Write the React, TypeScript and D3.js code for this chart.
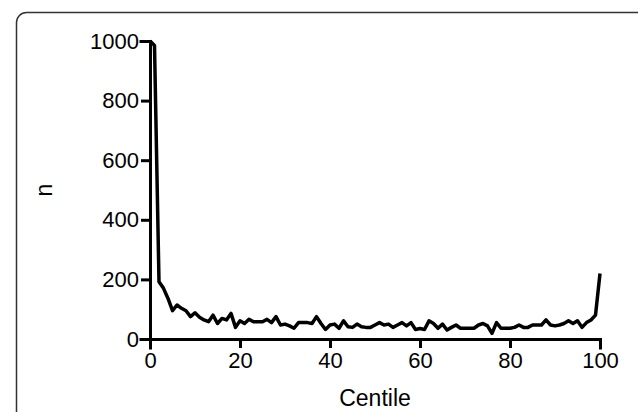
import React, { useEffect, useRef } from "react";
import * as d3 from "d3";

// n per centile (centile 0..100)
const centiles: number[] = d3.range(0, 101);
const counts: number[] = [
  1000, 985, 192, 170, 136, 95, 114, 103, 95, 75,
  88, 73, 64, 58, 80, 52, 69, 64, 86, 39,
  61, 52, 66, 58, 58, 58, 66, 55, 75, 47,
  50, 44, 36, 55, 55, 55, 52, 75, 52, 32,
  47, 50, 36, 61, 41, 39, 50, 41, 39, 39,
  47, 55, 47, 50, 39, 47, 55, 44, 55, 32,
  35, 32, 61, 52, 36, 50, 30, 39, 47, 36,
  36, 36, 36, 47, 52, 44, 19, 55, 36, 36,
  36, 39, 47, 39, 39, 47, 47, 47, 64, 47,
  44, 47, 52, 61, 52, 61, 39, 55, 64, 80,
  220,
];
const xTicks: number[] = [0, 20, 40, 60, 80, 100];
const yTicks: number[] = [0, 200, 400, 600, 800, 1000];

export default function App() {
  const ref = useRef<SVGSVGElement>(null);

  useEffect(() => {
    const node = ref.current;
    if (!node) return;
    const w = 638;
    const h = 412;
    const m = { t: 41, r: 38, b: 73, l: 150 };
    const font = "'Liberation Sans', Arial, sans-serif";

    const svg = d3.select(node);
    svg.selectAll("*").remove();

    // panel frame (rounded, runs off the right/bottom)
    svg
      .append("rect")
      .attr("x", 16.5)
      .attr("y", 12.5)
      .attr("width", 640)
      .attr("height", 440)
      .attr("rx", 10)
      .attr("fill", "none")
      .attr("stroke", "#333")
      .attr("stroke-width", 1.5);

    const x = d3.scaleLinear().domain([0, 100]).range([m.l, w - m.r]);
    const y = d3.scaleLinear().domain([0, 1000]).range([h - m.b, m.t]);

    const styleAxis = (g: any) => {
      g.select(".domain").attr("stroke", "#000").attr("stroke-width", 3).attr("stroke-linecap", "square");
      g.selectAll(".tick line").attr("stroke", "#000").attr("stroke-width", 3);
      g.selectAll(".tick text")
        .attr("fill", "#000")
        .style("font-family", font)
        .style("font-size", "22px");
    };

    svg
      .append("g")
      .attr("transform", `translate(0,${y(0)})`)
      .call(
        d3.axisBottom(x).tickValues(xTicks).tickFormat(d3.format("d")).tickSizeOuter(0).tickSize(9).tickPadding(4)
      )
      .call(styleAxis);

    svg
      .append("g")
      .attr("transform", `translate(${x(0)},0)`)
      .call(
        d3.axisLeft(y).tickValues(yTicks).tickFormat(d3.format("d")).tickSizeOuter(0).tickSize(9).tickPadding(2)
      )
      .call(styleAxis);

    const line = d3
      .line<number>()
      .x((_, i) => x(centiles[i]))
      .y(d => y(d));

    svg
      .append("path")
      .datum(counts)
      .attr("d", line)
      .attr("fill", "none")
      .attr("stroke", "#000")
      .attr("stroke-width", 3.5)
      .attr("stroke-linejoin", "round");

    // axis titles
    svg
      .append("text")
      .attr("x", (m.l + (w - m.r)) / 2)
      .attr("y", 406)
      .attr("text-anchor", "middle")
      .style("font-family", font)
      .style("font-size", "23px")
      .text("Centile");

    svg
      .append("text")
      .attr("transform", `translate(52, ${(m.t + (h - m.b)) / 2}) rotate(-90)`)
      .attr("text-anchor", "middle")
      .style("font-family", font)
      .style("font-size", "23px")
      .text("n");
  }, []);

  return (
    <svg
      ref={ref}
      width={638}
      height={412}
      style={{ position: "absolute", left: 0, top: 0, background: "#fff" }}
    />
  );
}
